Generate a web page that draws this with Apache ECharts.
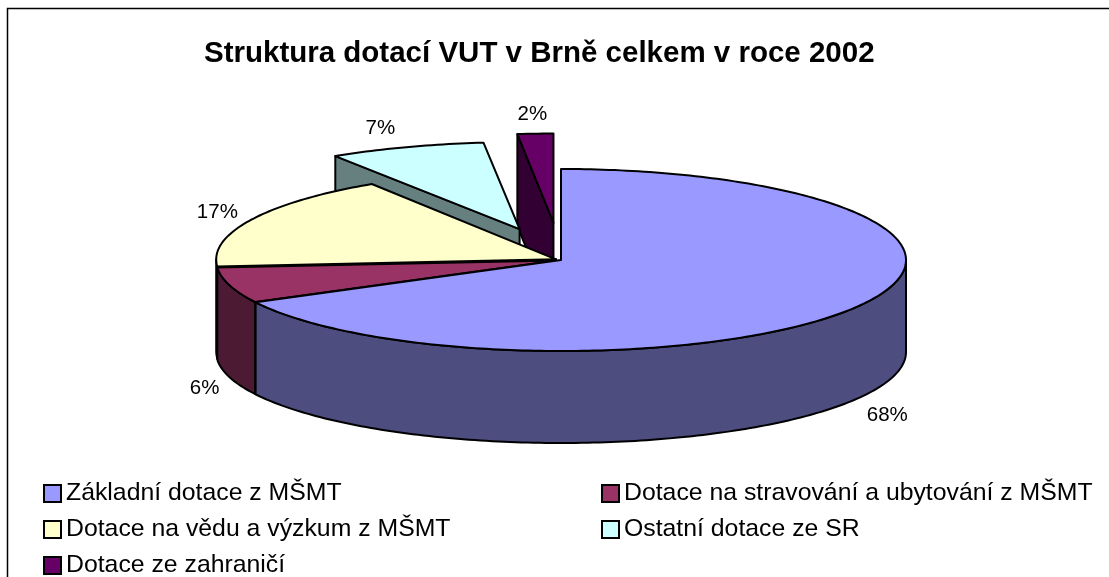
<!DOCTYPE html>
<html><head><meta charset="utf-8">
<style>html,body{margin:0;padding:0;background:#fff}#c{width:1109px;height:577px}</style>
<script src="https://cdn.jsdelivr.net/npm/echarts@6/dist/echarts.min.js"></script>
</head><body><div id="c"></div>
<script>
const titleText = 'Struktura dotací VUT v Brně celkem v roce 2002';
const categories = ['Základní dotace z MŠMT','Dotace na stravování a ubytování z MŠMT','Dotace na vědu a výzkum z MŠMT','Ostatní dotace ze SR','Dotace ze zahraničí'];
const percentValues = [67.5, 6.45, 17.2, 7.45, 1.7];

const topColors = ['#9999FF','#993366','#FFFFCC','#CCFFFF','#660066'];
const wallColors = ['#4D4D80','#4D1A33','#808066','#668080','#330033'];
const explode = [0, 0.015, 0.016, 0.36, 0.41];
const radiusScaleX = [1, 0.985, 0.985, 0.985, 0.985];
const radiusScaleY = [1, 0.985, 0.985, 0.955, 0.98];
const labelShift = [[31,16],[-25,11],[-34,-7],[-26,-19],[-3,-19]];
const PIE = {cx:561, cy:260, rx:345, ry:91, depth:92};
const legendPos = [[43,481],[601,481],[43,517],[601,517],[43,553]];

const total = percentValues.reduce((a,b)=>a+b,0);
const rad = d => d*Math.PI/180;
let acc = 0;
const spans = percentValues.map(v=>{const a=acc/total*360; acc+=v; return [a,acc/total*360];});

function slice(i){
  const [a,b] = spans[i], mid=(a+b)/2;
  const ax = PIE.cx + explode[i]*PIE.rx*Math.sin(rad(mid));
  const ay = PIE.cy - explode[i]*PIE.ry*Math.cos(rad(mid));
  const rx = PIE.rx*radiusScaleX[i], ry = PIE.ry*radiusScaleY[i];
  const pt = t => [ax+rx*Math.sin(rad(t)), ay-ry*Math.cos(rad(t))];
  return {a,b,mid,ax,ay,pt};
}
function arc(pt,from,to){
  const pts=[], n=Math.max(2,Math.ceil((to-from)/1));
  for(let k=0;k<=n;k++) pts.push(pt(from+(to-from)*k/n));
  return pts;
}
const edge = {stroke:'#000', lineWidth:2, lineJoin:'round'};
const down = p => [p[0],p[1]+PIE.depth];

function renderSlice(i){
  return function(){
    const s = slice(i), children=[];
    // cut wall on the counter-clockwise side, visible only when it faces the viewer
    if(Math.sin(rad(s.a))<-1e-6){
      const o=s.pt(s.a), c=[s.ax,s.ay];
      children.push({type:'polygon',shape:{points:[c,o,down(o),down(c)]},style:{fill:wallColors[i],...edge}});
    }
    // outer wall: front half of the rim only
    const from=Math.max(s.a,90), to=Math.min(s.b,270);
    if(to>from){
      const top=arc(s.pt,from,to);
      const pts=top.concat(top.slice().reverse().map(down));
      children.push({type:'polygon',shape:{points:pts},style:{fill:wallColors[i],...edge}});
    }
    // top face
    children.push({type:'polygon',shape:{points:[[s.ax,s.ay]].concat(arc(s.pt,s.a,s.b))},style:{fill:topColors[i],...edge}});
    // percentage label
    let p=s.pt(s.mid);
    if(s.mid>90&&s.mid<270) p=down(p);
    children.push({type:'text',z2:10,style:{
      text:Math.round(percentValues[i])+'%',x:p[0]+labelShift[i][0],y:p[1]+labelShift[i][1],
      align:'center',verticalAlign:'middle',fill:'#000',font:'20.5px "Liberation Sans"'}});
    return {type:'group',children};
  };
}

const chart = echarts.init(document.getElementById('c'),null,{renderer:'canvas'});
chart.setOption({
  animation:false,
  backgroundColor:'#fff',
  title:{text:titleText,left:204,top:39,padding:0,
    textStyle:{fontFamily:'Liberation Sans',fontWeight:'bold',fontSize:29.5,color:'#000'}},
  legend:categories.map((name,i)=>({
    left:legendPos[i][0],top:legendPos[i][1],orient:'horizontal',padding:0,
    itemWidth:17,itemHeight:17,itemGap:0,selectedMode:false,
    textStyle:{fontFamily:'Liberation Sans',fontSize:24.8,color:'#000',padding:[0,0,0,0]},
    data:[{name,icon:'rect',itemStyle:{color:topColors[i],borderColor:'#000',borderWidth:2}}]
  })),
  graphic:[{type:'rect',silent:true,shape:{x:7.5,y:8.5,width:1200,height:700},style:{fill:'none',stroke:'#000',lineWidth:1.5}}],
  series:categories.map((name,i)=>({
    type:'custom',name,coordinateSystem:'none',z:10-i,silent:true,
    itemStyle:{color:topColors[i]},
    data:[percentValues[i]],
    renderItem:renderSlice(i)
  }))
});
</script></body></html>
